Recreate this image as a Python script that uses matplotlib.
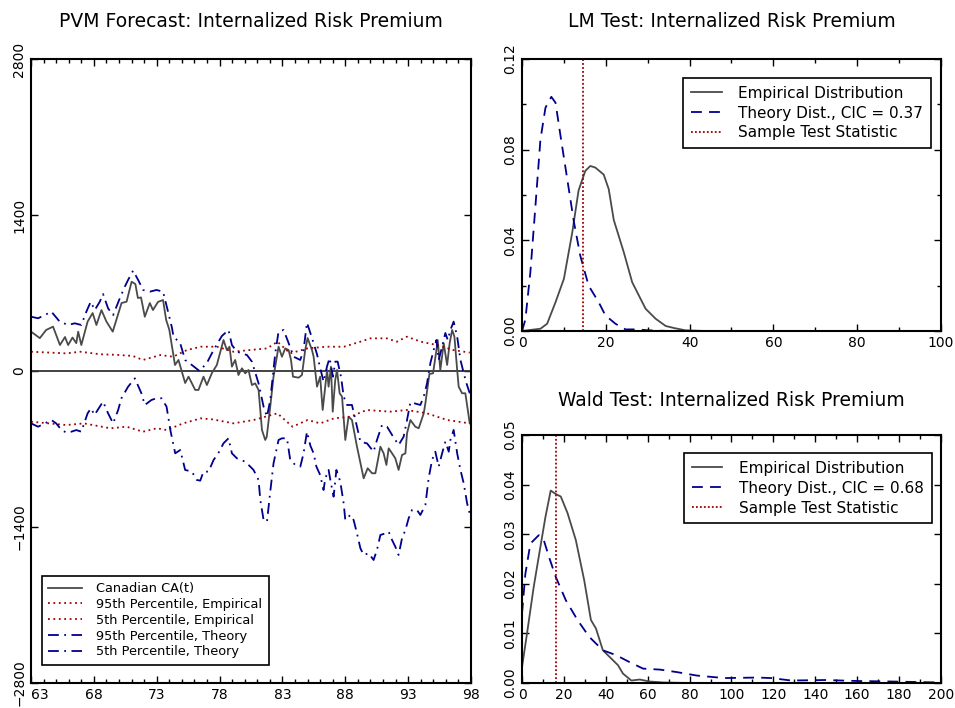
import matplotlib
matplotlib.use("Agg")
import matplotlib.pyplot as plt

plt.rcParams['font.family'] = ['DejaVu Sans']

# ---- left panel: PVM forecast ----
ca_year = [63.0, 63.7, 64.2, 64.75, 65.3, 65.7, 65.95, 66.3, 66.6, 66.75, 67.0, 67.5, 67.9,
           68.2, 68.6, 69.0, 69.5, 70.2, 70.6, 71.0, 71.3, 71.5, 71.75, 72.05, 72.45, 72.7,
           73.1, 73.5, 73.75, 74.0, 74.45, 74.73, 75.26, 75.53, 76.06, 76.32, 76.72, 76.99,
           77.39, 77.78, 78.31, 78.58, 78.79, 78.98, 79.24, 79.5, 79.78, 80.04, 80.3, 80.57,
           80.83, 81.1, 81.37, 81.63, 81.75, 82.03, 82.29, 82.69, 82.96, 83.22, 83.49, 83.68,
           83.84, 84.29, 84.55, 84.81, 85.0, 85.35, 85.48, 85.75, 86.0, 86.2, 86.55, 86.67,
           86.86, 87.0, 87.2, 87.34, 87.55, 87.74, 88.0, 88.26, 88.53, 88.93, 89.46, 89.78,
           90.13, 90.39, 90.52, 90.79, 91.05, 91.27, 91.45, 91.72, 91.98, 92.24, 92.51, 92.78,
           92.91, 93.18, 93.57, 93.84, 94.24, 94.37, 94.69, 94.98, 95.25, 95.35, 95.56, 95.83,
           96.1, 96.3, 96.5, 96.68, 96.9, 97.02, 97.29, 97.55, 97.9]
ca_val = [353, 295, 368, 398, 233, 305, 233, 300, 250, 353, 233, 443, 520,
          413, 547, 443, 353, 610, 622, 801, 780, 655, 660, 487, 610, 547,
          620, 637, 458, 370, 54, 99, -108, -51, -170, -170, -51, -126,
          -18, 54, 278, 188, 218, 39, 99, -36, 24, -21, 9, -126,
          -111, -170, -529, -619, -590, -320, -51, 218, 128, 203, 188, 99,
          -51, -60, -36, 188, 296, 188, 128, -141, -51, -350, 9, -141,
          39, -365, -81, 9, -200, -230, -619, -410, -440, -679, -963, -873,
          -918, -918, -843, -679, -739, -843, -694, -739, -784, -888, -754, -739,
          -559, -440, -500, -514, -380, -290, -27, -21, 188, 278, 9, 248,
          54, 248, 368, 308, 9, -141, -200, -200, -470]

th95_year = [63.0, 63.56, 64.09, 64.62, 65.28, 65.95, 66.48, 67.0, 67.4, 67.75, 68.07, 68.47,
             68.73, 69.13, 69.53, 70.06, 70.46, 70.72, 71.12, 71.52, 71.92, 72.45, 72.98, 73.5,
             73.9, 74.22, 74.33, 74.86, 75.26, 75.79, 76.4, 76.99, 77.52, 78.18, 78.71, 78.98,
             79.38, 80.18, 80.57, 81.1, 81.5, 81.77, 82.03, 82.43, 82.69, 83.09, 83.49, 83.89,
             84.42, 84.68, 84.95, 85.35, 85.75, 86.0, 86.27, 86.54, 86.75, 87.02, 87.2, 87.39,
             87.66, 87.87, 88.14, 88.53, 89.2, 89.73, 90.25, 90.52, 90.92, 91.32, 91.72, 92.24,
             92.64, 92.91, 93.18, 93.97, 94.24, 94.5, 94.77, 95.03, 95.25, 95.43, 95.7, 95.96,
             96.15, 96.36, 96.62, 96.9, 97.16, 97.42, 97.64, 97.9]
th95_val = [487, 473, 502, 532, 443, 413, 428, 413, 532, 622, 547, 622,
            691, 562, 502, 652, 757, 817, 901, 817, 727, 712, 727, 712,
            532, 383, 308, 251, 99, 54, 0, 72, 188, 314, 368, 233,
            173, 143, 84, -111, -320, -410, -260, 161, 353, 368, 251, 128,
            99, 188, 434, 296, 150, 27, -96, 39, 117, -51, 84, 84,
            -51, -230, -305, -305, -634, -650, -724, -619, -485, -500, -574, -664,
            -590, -440, -280, -305, -230, -111, 72, 188, 278, 99, 218, 341,
            278, 368, 443, 308, 99, -18, -111, -200]

th05_year = [63.0, 63.56, 64.1, 64.62, 65.0, 65.42, 65.82, 66.2, 66.6, 67.0, 67.5, 67.77,
             68.05, 68.47, 68.73, 69.13, 69.53, 69.93, 70.19, 70.72, 71.26, 71.78, 72.05, 72.58,
             72.98, 73.38, 73.78, 74.1, 74.47, 74.87, 75.26, 75.79, 76.19, 76.46, 76.72, 77.12,
             77.52, 77.92, 78.31, 78.71, 78.98, 79.38, 80.04, 80.44, 80.7, 81.1, 81.24, 81.5,
             81.77, 81.9, 82.03, 82.29, 82.69, 82.96, 83.36, 83.62, 84.02, 84.42, 84.68, 84.95,
             85.22, 85.48, 85.7, 86.0, 86.27, 86.41, 86.67, 86.86, 87.07, 87.29, 87.6, 87.87,
             88.0, 88.4, 88.66, 88.93, 89.2, 89.46, 89.86, 90.25, 90.52, 90.79, 91.19, 91.45,
             91.72, 91.98, 92.24, 92.51, 92.78, 93.04, 93.31, 93.7, 93.97, 94.37, 94.63, 94.9,
             95.16, 95.43, 95.7, 95.96, 96.23, 96.36, 96.62, 96.9, 97.16, 97.42, 97.69, 97.9]
th05_val = [-470, -500, -470, -440, -470, -530, -553, -545, -530, -545, -380, -335,
            -395, -320, -275, -380, -470, -350, -245, -141, -66, -200, -305, -260,
            -245, -245, -320, -540, -739, -709, -888, -903, -978, -984, -903, -903,
            -799, -733, -649, -604, -739, -784, -814, -858, -888, -978, -1158, -1337,
            -1352, -1218, -1083, -829, -619, -604, -604, -799, -843, -858, -739, -545,
            -670, -739, -858, -933, -1068, -963, -888, -1008, -1128, -888, -993, -1188,
            -1337, -1292, -1337, -1457, -1591, -1651, -1636, -1696, -1606, -1472, -1457, -1442,
            -1517, -1577, -1651, -1502, -1427, -1322, -1247, -1247, -1292, -1203, -963, -799,
            -724, -858, -739, -634, -724, -619, -529, -739, -888, -1008, -1188, -1280]

emp95_year = [63.0, 65.8, 66.9, 68.5, 69.8, 71.1, 71.9, 73.3, 74.3, 75.4, 76.5, 77.8, 79.1,
              80.4, 81.8, 82.6, 83.6, 85.0, 86.5, 87.9, 89.2, 90.0, 91.3, 92.1, 92.9, 94.0,
              95.3, 96.6, 97.9]
emp95_val = [173, 158, 173, 150, 145, 135, 99, 143, 128, 188, 218, 218, 173,
             188, 203, 263, 158, 203, 218, 218, 263, 293, 293, 263, 308, 263,
             233, 188, 165]

emp05_year = [63.0, 65.8, 67.2, 69.3, 70.6, 71.9, 73.0, 73.8, 75.1, 76.5, 77.5, 79.1, 80.7,
              82.6, 83.8, 85.0, 86.0, 87.1, 88.4, 89.7, 91.6, 92.9, 94.5, 96.1, 97.9]
emp05_val = [-455, -485, -470, -514, -500, -545, -514, -530, -470, -425, -435, -470, -440,
             -380, -500, -440, -470, -425, -410, -350, -365, -350, -380, -440, -470]

year_ticks = [63, 68, 73, 78, 83, 88, 93, 98]

# ---- LM test densities ----
lm_emp_x = [0, 4.4, 6, 8, 10, 12, 13.5, 15.1, 16.3, 17.5, 19.5, 20.7, 21.9, 24.3, 26.3,
            29.5, 31.9, 34.3, 36.3, 39, 43.8, 100]
lm_emp_y = [0, 0.001, 0.0032, 0.0127, 0.023, 0.0435, 0.062, 0.0706, 0.0728, 0.0721, 0.069,
            0.0626, 0.049, 0.0347, 0.0215, 0.0098, 0.0054, 0.0022, 0.0013, 0.0003, 0, 0]
lm_th_x = [0, 0.8, 2, 3.2, 4.4, 5.6, 7, 8, 9.2, 10.8, 12.4, 13.9, 15.9, 18.3, 19.9, 22.3,
           24.7, 27.1, 30.3, 35]
lm_th_y = [0, 0.005, 0.026, 0.055, 0.0845, 0.0985, 0.1033, 0.1007, 0.086, 0.067, 0.048,
           0.0333, 0.020, 0.0127, 0.0069, 0.0032, 0.0007, 0.0007, 0.0003, 0]
lm_stat = 14.6

# ---- Wald test densities ----
wald_emp_x = [0, 2.4, 5.6, 8.8, 11.2, 13.7, 16.1, 18.5, 21.7, 25.7, 29.7, 32.9, 35.3, 38.6,
              41, 45.8, 48.2, 52.2, 56.2, 61, 67.5, 80, 200]
wald_emp_y = [0.0032, 0.010, 0.0194, 0.0275, 0.0335, 0.0388, 0.0381, 0.0376, 0.0343, 0.0288,
              0.0207, 0.0127, 0.011, 0.0066, 0.0056, 0.0036, 0.0019, 0.0005, 0.0007, 0.0003,
              0.0001, 0, 0]
wald_th_x = [0, 1.6, 4, 8, 10.4, 12.9, 16.1, 20.9, 26.5, 32.1, 38.6, 45, 51.4, 57.8, 65.9,
             73.9, 83.5, 96.4, 112.4, 118.9, 128.5, 144.6, 160.6, 176.7, 200]
wald_th_y = [0.014, 0.022, 0.0281, 0.0298, 0.0288, 0.0254, 0.0214, 0.0167, 0.0127, 0.0093,
             0.0066, 0.0056, 0.0042, 0.0029, 0.0027, 0.0022, 0.0015, 0.001, 0.0011, 0.001,
             0.0005, 0.0006, 0.0004, 0.0003, 0.0001]
wald_stat = 16.1

GRAY = '#4a4a4a'
RED = '#a00000'
BLUE = '#00008c'
dashdot = (0, (6, 3, 1, 3))
dotted = (0, (1, 2))


def style_axes(ax):
    for s in ax.spines.values():
        s.set_linewidth(1.5)
    ax.tick_params(which='both', direction='in', top=True, right=True, labelsize=10)
    ax.tick_params(which='major', length=5, width=1)
    ax.tick_params(which='minor', length=3, width=1)
    ax.tick_params(axis='y', labelrotation=90)
    for lab in ax.get_yticklabels():
        lab.set_va('center')


def boxed_legend(ax, anchor, loc, size, hlen, spacing):
    leg = ax.legend(loc=loc, bbox_to_anchor=anchor, borderaxespad=0,
                    fontsize=size, fancybox=False, framealpha=1, edgecolor='black',
                    handlelength=hlen, handletextpad=1.1, labelspacing=spacing, borderpad=0.5)
    leg.get_frame().set_linewidth(1.2)


fig = plt.figure(figsize=(9.55, 7.08), dpi=100)

# left panel
ax = fig.add_axes([0.0325, 0.0353, 0.4607, 0.8814])
ax.axhline(0, color='#333333', lw=1.3)
ax.plot(ca_year, ca_val, color=GRAY, lw=1.3, label='Canadian CA(t)')
ax.plot(emp95_year, emp95_val, color=RED, lw=1.3, ls=dotted, label='95th Percentile, Empirical')
ax.plot(emp05_year, emp05_val, color=RED, lw=1.3, ls=dotted, label='5th Percentile, Empirical')
ax.plot(th95_year, th95_val, color=BLUE, lw=1.3, ls=dashdot, label='95th Percentile, Theory')
ax.plot(th05_year, th05_val, color=BLUE, lw=1.3, ls=dashdot, label='5th Percentile, Theory')
ax.set_xlim(63, 98)
ax.set_ylim(-2800, 2800)
ax.set_xticks(year_ticks)
ax.set_xticks(range(63, 99), minor=True)
ax.set_yticks([-2800, -1400, 0, 1400, 2800])
style_axes(ax)
ax.get_xticklabels()[0].set_ha('left')
ax.set_title('PVM Forecast: Internalized Risk Premium', fontsize=13.5, pad=23)
boxed_legend(ax, (0.025, 0.029), 'lower left', 9.3, 2.6, 0.22)

# LM test
ax2 = fig.add_axes([0.5466, 0.5325, 0.4387, 0.3842])
ax2.plot(lm_emp_x, lm_emp_y, color=GRAY, lw=1.3, label='Empirical Distribution')
ax2.plot(lm_th_x, lm_th_y, color=BLUE, lw=1.3, ls=(0, (6, 4)), label='Theory Dist., CIC = 0.37')
ax2.axvline(lm_stat, color=RED, lw=1.3, ls=(0, (1, 1.2)), label='Sample Test Statistic')
ax2.set_xlim(0, 100)
ax2.set_ylim(0, 0.12)
ax2.set_xticks(range(0, 101, 20))
ax2.set_xticks(range(0, 101, 10), minor=True)
ax2.set_yticks([0, 0.04, 0.08, 0.12])
ax2.set_yticklabels(['0.00', '0.04', '0.08', '0.12'])
ax2.set_yticks([0.02, 0.06, 0.10], minor=True)
style_axes(ax2)
ax2.set_title('LM Test: Internalized Risk Premium', fontsize=13.5, pad=23)
boxed_legend(ax2, (0.976, 0.930), 'upper right', 11, 2.0, 0.32)

# Wald test
ax3 = fig.add_axes([0.5466, 0.0353, 0.4387, 0.3503])
ax3.plot(wald_emp_x, wald_emp_y, color=GRAY, lw=1.3, label='Empirical Distribution')
ax3.plot(wald_th_x, wald_th_y, color=BLUE, lw=1.3, ls=(0, (6, 4)), label='Theory Dist., CIC = 0.68')
ax3.axvline(wald_stat, color=RED, lw=1.3, ls=(0, (1, 1.2)), label='Sample Test Statistic')
ax3.set_xlim(0, 200)
ax3.set_ylim(0, 0.05)
ax3.set_xticks(range(0, 201, 20))
ax3.set_xticks(range(0, 201, 10), minor=True)
ax3.set_yticks([0, 0.01, 0.02, 0.03, 0.04, 0.05])
ax3.set_yticklabels(['0.00', '0.01', '0.02', '0.03', '0.04', '0.05'])
style_axes(ax3)
ax3.set_title('Wald Test: Internalized Risk Premium', fontsize=13.5, pad=21)
boxed_legend(ax3, (0.978, 0.927), 'upper right', 11, 2.0, 0.32)

fig.savefig('out.png', dpi=100)
